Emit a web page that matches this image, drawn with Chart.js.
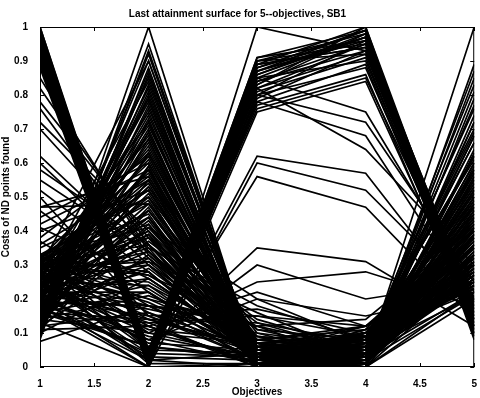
<!DOCTYPE html>
<html>
<head>
<meta charset="utf-8">
<script src="https://cdn.jsdelivr.net/npm/chart.js@4.4.1/dist/chart.umd.min.js"></script>
<style>
  html, body { margin: 0; padding: 0; background: #fff; }
  canvas { display: block; }
</style>
</head>
<body>
<canvas id="chart1" width="480" height="398"></canvas>
<script>
// objective axis positions
const objectives = [1, 2, 3, 4, 5];
const xTicks = [1, 1.5, 2, 2.5, 3, 3.5, 4, 4.5, 5];
const yTicks = [0, 0.1, 0.2, 0.3, 0.4, 0.5, 0.6, 0.7, 0.8, 0.9, 1];

// obj1 high -> obj2 ~0 -> obj3 high -> obj4 high -> obj5 low
const bandRows = [
  [1.00, 0.04, 0.91, 0.99, 0.12],
  [0.99, 0.03, 0.90, 0.98, 0.10],
  [0.99, 0.05, 0.89, 1.00, 0.14],
  [0.98, 0.02, 0.88, 0.97, 0.11],
  [0.98, 0.04, 0.91, 0.96, 0.16],
  [0.97, 0.03, 0.87, 0.99, 0.13],
  [0.97, 0.01, 0.90, 0.95, 0.09],
  [0.96, 0.02, 0.86, 0.98, 0.15],
  [0.96, 0.04, 0.89, 0.94, 0.12],
  [0.95, 0.03, 0.85, 0.97, 0.18],
  [0.95, 0.01, 0.88, 0.99, 0.10],
  [0.94, 0.02, 0.84, 0.93, 0.14],
  [0.94, 0.00, 0.87, 0.96, 0.11],
  [0.93, 0.03, 0.83, 0.98, 0.17],
  [0.93, 0.01, 0.90, 0.92, 0.13],
  [0.92, 0.02, 0.82, 0.95, 0.09],
  [0.92, 0.00, 0.86, 0.97, 0.15],
  [0.91, 0.01, 0.81, 0.91, 0.12],
  [0.91, 0.02, 0.89, 0.94, 0.19],
  [0.90, 0.00, 0.80, 0.96, 0.10],
  [0.90, 0.01, 0.85, 0.90, 0.14],
  [0.89, 0.00, 0.79, 0.93, 0.16],
  [0.89, 0.02, 0.88, 0.99, 0.11],
  [0.88, 0.00, 0.78, 0.89, 0.13],
  [0.99, 0.04, 0.84, 0.95, 0.17],
  [0.97, 0.05, 0.82, 0.92, 0.20],
  [0.95, 0.04, 0.80, 0.88, 0.15],
  [0.93, 0.02, 0.77, 0.86, 0.12],
  [0.91, 0.03, 0.76, 0.85, 0.18],
  [0.98, 0.01, 0.75, 0.84, 0.14],
  [1.00, 0.02, 0.87, 0.97, 0.08],
  [0.96, 0.00, 0.83, 1.00, 0.10]
];

// obj1 low -> obj2 peaks -> obj3 ~0 -> obj4 low -> obj5 spread
const peakRows = [
  [0.08, 1.00, 0.00, 0.02, 1.00],
  [0.10, 0.93, 0.02, 0.00, 0.89],
  [0.12, 0.92, 0.01, 0.03, 0.87],
  [0.14, 0.90, 0.03, 0.01, 0.85],
  [0.09, 0.88, 0.00, 0.05, 0.83],
  [0.16, 0.85, 0.02, 0.02, 0.81],
  [0.11, 0.83, 0.04, 0.00, 0.79],
  [0.18, 0.82, 0.01, 0.04, 0.77],
  [0.13, 0.80, 0.03, 0.06, 0.76],
  [0.20, 0.78, 0.00, 0.01, 0.74],
  [0.15, 0.76, 0.05, 0.03, 0.72],
  [0.22, 0.75, 0.02, 0.07, 0.70],
  [0.17, 0.73, 0.01, 0.02, 0.68],
  [0.24, 0.71, 0.04, 0.05, 0.66],
  [0.19, 0.70, 0.00, 0.00, 0.64],
  [0.26, 0.68, 0.03, 0.08, 0.62],
  [0.21, 0.66, 0.02, 0.03, 0.60],
  [0.28, 0.64, 0.05, 0.06, 0.58],
  [0.23, 0.62, 0.01, 0.01, 0.56],
  [0.30, 0.60, 0.04, 0.09, 0.54],
  [0.25, 0.58, 0.00, 0.04, 0.52],
  [0.32, 0.56, 0.06, 0.02, 0.50],
  [0.27, 0.54, 0.02, 0.07, 0.49],
  [0.31, 0.52, 0.03, 0.10, 0.47],
  [0.33, 0.50, 0.01, 0.05, 0.46],
  [0.20, 0.48, 0.07, 0.03, 0.45],
  [0.26, 0.46, 0.04, 0.08, 0.43],
  [0.18, 0.44, 0.02, 0.11, 0.42],
  [0.30, 0.42, 0.05, 0.06, 0.41],
  [0.22, 0.40, 0.08, 0.12, 0.40],
  [0.12, 0.87, 0.01, 0.02, 0.60],
  [0.14, 0.81, 0.02, 0.04, 0.55],
  [0.16, 0.79, 0.00, 0.01, 0.48],
  [0.19, 0.74, 0.03, 0.05, 0.44],
  [0.21, 0.69, 0.01, 0.03, 0.38],
  [0.24, 0.65, 0.04, 0.07, 0.35],
  [0.27, 0.61, 0.02, 0.02, 0.32],
  [0.29, 0.57, 0.05, 0.06, 0.30],
  [0.13, 0.72, 0.00, 0.00, 0.28],
  [0.17, 0.67, 0.03, 0.04, 0.26],
  [0.09, 0.95, 0.01, 0.03, 0.62],
  [0.10, 0.86, 0.03, 0.01, 0.57],
  [0.12, 0.77, 0.00, 0.06, 0.69],
  [0.14, 0.69, 0.02, 0.02, 0.47],
  [0.16, 0.63, 0.04, 0.05, 0.53],
  [0.18, 0.59, 0.01, 0.00, 0.36],
  [0.23, 0.79, 0.03, 0.07, 0.29],
  [0.25, 0.84, 0.05, 0.03, 0.41],
  [0.28, 0.72, 0.02, 0.09, 0.33],
  [0.30, 0.67, 0.00, 0.04, 0.27],
  [0.32, 0.63, 0.06, 0.01, 0.39],
  [0.29, 0.90, 0.02, 0.05, 0.51]
];

// dense bottom: everything low
const lowRows = [
  [0.075, 0.18, 0.02, 0.03, 0.25],
  [0.13, 0.00, 0.01, 0.00, 0.22],
  [0.14, 0.10, 0.03, 0.02, 0.30],
  [0.16, 0.22, 0.00, 0.05, 0.27],
  [0.18, 0.30, 0.04, 0.01, 0.34],
  [0.20, 0.15, 0.02, 0.06, 0.24],
  [0.22, 0.26, 0.05, 0.03, 0.38],
  [0.24, 0.08, 0.01, 0.08, 0.29],
  [0.26, 0.34, 0.03, 0.02, 0.33],
  [0.28, 0.20, 0.06, 0.04, 0.26],
  [0.30, 0.12, 0.00, 0.07, 0.36],
  [0.32, 0.28, 0.02, 0.01, 0.31],
  [0.33, 0.05, 0.04, 0.09, 0.23],
  [0.15, 0.32, 0.07, 0.04, 0.40],
  [0.19, 0.04, 0.03, 0.02, 0.21],
  [0.21, 0.36, 0.01, 0.06, 0.28],
  [0.23, 0.18, 0.05, 0.10, 0.35],
  [0.25, 0.24, 0.02, 0.03, 0.42],
  [0.27, 0.02, 0.00, 0.05, 0.25],
  [0.29, 0.38, 0.04, 0.08, 0.30],
  [0.31, 0.14, 0.06, 0.02, 0.27],
  [0.17, 0.06, 0.02, 0.07, 0.32],
  [0.11, 0.12, 0.01, 0.04, 0.37],
  [0.26, 0.30, 0.08, 0.11, 0.24],
  [0.20, 0.09, 0.03, 0.00, 0.20],
  [0.22, 0.03, 0.02, 0.04, 0.27],
  [0.25, 0.07, 0.05, 0.01, 0.33],
  [0.28, 0.01, 0.01, 0.06, 0.24],
  [0.30, 0.06, 0.03, 0.03, 0.38],
  [0.32, 0.10, 0.07, 0.08, 0.29],
  [0.18, 0.02, 0.04, 0.05, 0.26],
  [0.24, 0.13, 0.00, 0.02, 0.31],
  [0.33, 0.16, 0.05, 0.09, 0.22]
];

// more lines filling the dense lower-left mass
const fillRows = [
  [0.10, 0.26, 0.04, 0.02, 0.46],
  [0.11, 0.42, 0.01, 0.06, 0.53],
  [0.12, 0.33, 0.06, 0.03, 0.29],
  [0.13, 0.55, 0.02, 0.09, 0.61],
  [0.14, 0.21, 0.09, 0.01, 0.34],
  [0.15, 0.47, 0.03, 0.05, 0.57],
  [0.16, 0.14, 0.05, 0.08, 0.23],
  [0.17, 0.39, 0.00, 0.02, 0.49],
  [0.18, 0.58, 0.07, 0.04, 0.66],
  [0.19, 0.28, 0.02, 0.10, 0.31],
  [0.20, 0.51, 0.04, 0.00, 0.72],
  [0.21, 0.17, 0.10, 0.06, 0.27],
  [0.22, 0.44, 0.01, 0.03, 0.44],
  [0.23, 0.31, 0.05, 0.09, 0.38],
  [0.24, 0.53, 0.03, 0.01, 0.59],
  [0.25, 0.11, 0.08, 0.05, 0.21],
  [0.26, 0.40, 0.00, 0.07, 0.51],
  [0.27, 0.25, 0.06, 0.02, 0.36],
  [0.28, 0.49, 0.02, 0.11, 0.47],
  [0.29, 0.19, 0.04, 0.04, 0.25],
  [0.30, 0.36, 0.11, 0.08, 0.41],
  [0.31, 0.45, 0.01, 0.00, 0.63],
  [0.32, 0.23, 0.03, 0.06, 0.32],
  [0.33, 0.41, 0.07, 0.03, 0.54],
  [0.12, 0.16, 0.02, 0.07, 0.39],
  [0.14, 0.37, 0.13, 0.04, 0.28],
  [0.16, 0.29, 0.05, 0.10, 0.45],
  [0.18, 0.12, 0.01, 0.02, 0.33],
  [0.20, 0.34, 0.09, 0.06, 0.24],
  [0.22, 0.22, 0.03, 0.01, 0.56],
  [0.24, 0.46, 0.06, 0.09, 0.37],
  [0.26, 0.18, 0.12, 0.05, 0.42],
  [0.28, 0.32, 0.02, 0.03, 0.22],
  [0.30, 0.27, 0.08, 0.07, 0.50],
  [0.32, 0.52, 0.04, 0.02, 0.35],
  [0.11, 0.59, 0.00, 0.05, 0.68],
  [0.13, 0.63, 0.05, 0.08, 0.43],
  [0.15, 0.13, 0.15, 0.12, 0.30],
  [0.17, 0.24, 0.07, 0.00, 0.58],
  [0.19, 0.43, 0.03, 0.04, 0.26],
  [0.21, 0.38, 0.14, 0.05, 0.31],
  [0.23, 0.50, 0.10, 0.02, 0.46],
  [0.25, 0.35, 0.18, 0.08, 0.27],
  [0.27, 0.44, 0.07, 0.10, 0.38],
  [0.29, 0.31, 0.16, 0.03, 0.33],
  [0.31, 0.48, 0.09, 0.06, 0.52],
  [0.33, 0.27, 0.12, 0.01, 0.29],
  [0.16, 0.41, 0.20, 0.07, 0.35],
  [0.18, 0.53, 0.11, 0.04, 0.41],
  [0.24, 0.39, 0.06, 0.12, 0.25],
  [0.28, 0.55, 0.08, 0.05, 0.48],
  [0.14, 0.46, 0.05, 0.02, 0.39]
];

// obj1 mid values crossing
const crossRows = [
  [0.85, 0.34, 0.02, 0.04, 0.55],
  [0.82, 0.36, 0.04, 0.08, 0.62],
  [0.78, 0.38, 0.01, 0.03, 0.50],
  [0.76, 0.33, 0.05, 0.10, 0.47],
  [0.72, 0.40, 0.03, 0.06, 0.58],
  [0.70, 0.35, 0.00, 0.02, 0.43],
  [0.62, 0.32, 0.06, 0.09, 0.40],
  [0.60, 0.30, 0.02, 0.05, 0.52],
  [0.58, 0.36, 0.04, 0.12, 0.35],
  [0.55, 0.34, 0.07, 0.04, 0.48],
  [0.52, 0.28, 0.01, 0.08, 0.33],
  [0.47, 0.48, 0.02, 0.06, 0.44],
  [0.47, 0.56, 0.05, 0.03, 0.39],
  [0.44, 0.60, 0.03, 0.07, 0.30],
  [0.42, 0.58, 0.00, 0.10, 0.42],
  [0.40, 0.52, 0.06, 0.05, 0.36],
  [0.38, 0.62, 0.02, 0.02, 0.31],
  [0.36, 0.55, 0.04, 0.09, 0.28],
  [0.35, 0.50, 0.01, 0.04, 0.34],
  [0.46, 0.22, 0.03, 0.05, 0.37],
  [0.41, 0.26, 0.05, 0.02, 0.45],
  [0.37, 0.18, 0.02, 0.08, 0.32],
  [0.50, 0.15, 0.04, 0.03, 0.40]
];

// lines through the open middle region
const midRows = [
  [0.22, 0.02, 0.62, 0.57, 0.16],
  [0.18, 0.00, 0.60, 0.52, 0.20],
  [0.25, 0.04, 0.56, 0.47, 0.14],
  [0.28, 0.05, 0.35, 0.31, 0.12],
  [0.16, 0.06, 0.30, 0.20, 0.25],
  [0.24, 0.10, 0.25, 0.28, 0.18],
  [0.30, 0.12, 0.22, 0.12, 0.30],
  [0.20, 0.08, 0.20, 0.15, 0.22],
  [0.27, 0.15, 0.17, 0.10, 0.35],
  [0.19, 0.18, 0.15, 0.09, 0.28],
  [0.23, 0.14, 0.13, 0.07, 0.24],
  [0.31, 0.20, 0.12, 0.14, 0.40],
  [0.97, 0.03, 0.85, 0.75, 0.22],
  [0.94, 0.02, 0.80, 0.72, 0.25],
  [0.92, 0.04, 0.78, 0.68, 0.19],
  [0.90, 0.01, 0.82, 0.64, 0.30],
  [0.20, 0.00, 1.00, 0.93, 0.12]
];

const allRows = [].concat(bandRows, peakRows, lowRows, fillRows, crossRows, midRows);

const tickFont = { family: 'Liberation Sans', size: 10, weight: 'bold' };

// MATLAB style box with inward ticks
const frame = {
  id: 'frame',
  afterDraw(chart) {
    const ctx = chart.ctx;
    const a = chart.chartArea;
    const sx = chart.scales.x, sy = chart.scales.y;
    ctx.save();
    ctx.strokeStyle = '#000';
    ctx.lineWidth = 1;
    ctx.strokeRect(a.left + 0.5, a.top + 0.5, a.right - a.left - 1, a.bottom - a.top - 1);
    ctx.beginPath();
    xTicks.forEach(v => {
      const px = Math.round(sx.getPixelForValue(v)) + 0.5;
      ctx.moveTo(px, a.bottom); ctx.lineTo(px, a.bottom - 4);
      ctx.moveTo(px, a.top); ctx.lineTo(px, a.top + 4);
    });
    yTicks.forEach(v => {
      const py = Math.round(sy.getPixelForValue(v)) + 0.5;
      ctx.moveTo(a.left, py); ctx.lineTo(a.left + 4, py);
      ctx.moveTo(a.right, py); ctx.lineTo(a.right - 4, py);
    });
    ctx.stroke();
    ctx.restore();
  }
};

const fmt = v => String(Math.round(v * 10) / 10);

new Chart(document.getElementById('chart1').getContext('2d'), {
  type: 'line',
  data: {
    datasets: allRows.map(row => ({
      data: row.map((v, i) => ({ x: objectives[i], y: v })),
      borderColor: '#000',
      borderWidth: 1.7,
      pointRadius: 0,
      tension: 0,
      fill: false
    }))
  },
  options: {
    responsive: false,
    animation: false,
    layout: { padding: { left: 0, right: 5, top: 0, bottom: 0 } },
    plugins: {
      legend: { display: false },
      tooltip: { enabled: false },
      title: {
        display: true,
        text: 'Last attainment surface for 5--objectives, SB1',
        color: '#000',
        font: { family: 'Liberation Sans', size: 10, weight: 'bold' },
        padding: { top: 8, bottom: 7 }
      }
    },
    scales: {
      x: {
        type: 'linear',
        min: 1,
        max: 5,
        ticks: { stepSize: 0.5, color: '#000', font: tickFont, maxRotation: 0, padding: 3, callback: fmt },
        grid: { display: false },
        border: { display: false },
        title: { display: true, text: 'Objectives', color: '#000', font: tickFont, padding: 0 },
        afterFit(s) { s.height = 31; }
      },
      y: {
        min: 0,
        max: 1,
        ticks: { stepSize: 0.1, color: '#000', font: tickFont, padding: 4, callback: fmt },
        grid: { display: false },
        border: { display: false },
        title: { display: true, text: 'Costs of ND points found', color: '#000', font: tickFont, padding: 0 },
        afterFit(s) { s.width = 40; }
      }
    }
  },
  plugins: [frame]
});
</script>
</body>
</html>
